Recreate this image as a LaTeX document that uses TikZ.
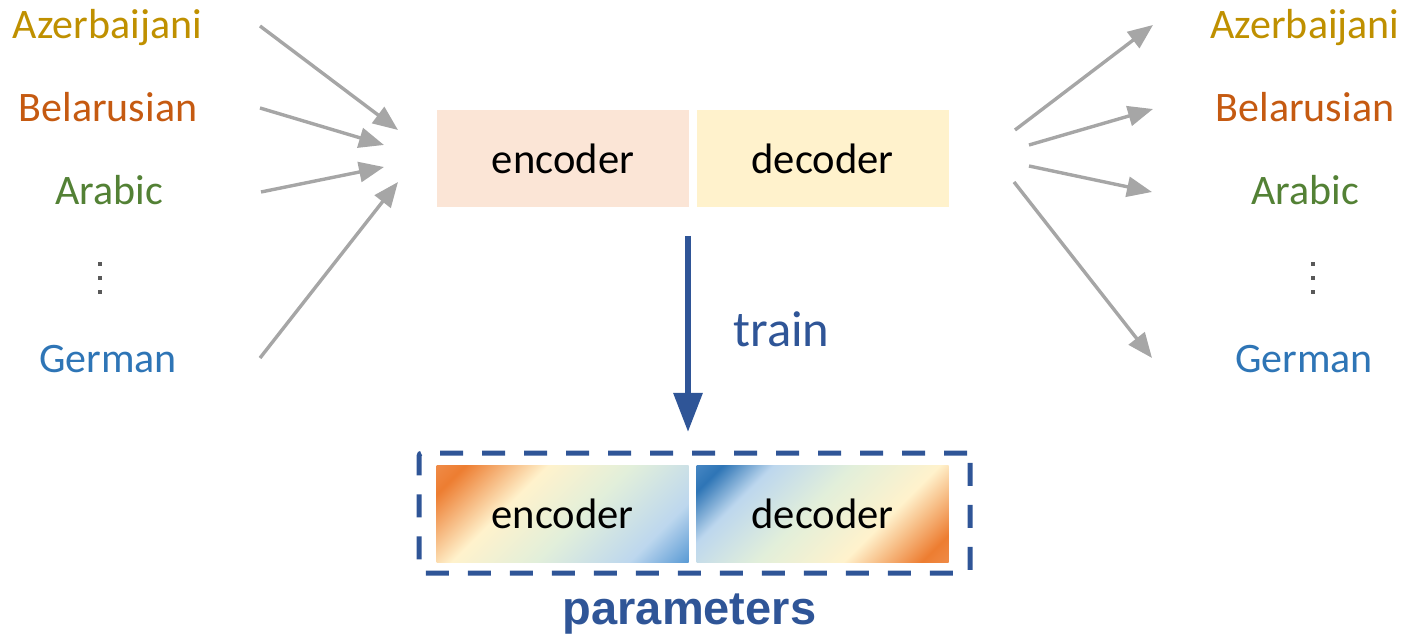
\documentclass[tikz,border=0pt]{standalone}
\usepackage{fontspec}
\setmainfont{Carlito}
\newfontfamily\paramfont{Liberation Sans}
\usetikzlibrary{arrows.meta}

% palette
\definecolor{azcol}{HTML}{BF9000}
\definecolor{becol}{HTML}{C55A11}
\definecolor{arcol}{HTML}{538135}
\definecolor{decol}{HTML}{2E75B6}
\definecolor{arrowgray}{HTML}{A6A6A6}
\definecolor{navy}{HTML}{2F5597}
\definecolor{dotgray}{HTML}{595959}
\definecolor{encfill}{HTML}{FBE5D6}
\definecolor{decfill}{HTML}{FFF2CC}
% gradient stops
\definecolor{gOrangeLt}{HTML}{EF8A46}
\definecolor{gOrange}{HTML}{ED7D31}
\definecolor{gCream}{HTML}{FFF2CC}
\definecolor{gGreen}{HTML}{E2EFDA}
\definecolor{gBlueLt}{HTML}{BDD7EE}
\definecolor{gBlue}{HTML}{5B9BD5}
\definecolor{gBlueDk}{HTML}{2E75B6}
\definecolor{gBlueDkLt}{HTML}{4585C2}

% diagonal gradients (the box spans 29.43bp..70.57bp of the shading)
\pgfdeclarehorizontalshading{encshade}{100bp}{%
  color(0bp)=(gOrangeLt); color(29.43bp)=(gOrangeLt);
  color(32.8bp)=(gOrange); color(42.6bp)=(gCream);
  color(52.5bp)=(gGreen); color(63.6bp)=(gBlueLt);
  color(70.57bp)=(gBlue); color(100bp)=(gBlue)}
\pgfdeclarehorizontalshading{decshade}{100bp}{%
  color(0bp)=(gBlueDkLt); color(29.43bp)=(gBlueDkLt);
  color(32.5bp)=(gBlueDk); color(38.5bp)=(gBlueLt);
  color(48bp)=(gGreen); color(58.2bp)=(gCream);
  color(67.5bp)=(gOrange); color(70.57bp)=(gOrangeLt);
  color(100bp)=(gOrangeLt)}

\begin{document}
\begin{tikzpicture}[x=0.5pt,y=-0.5pt,
  lang/.style={inner sep=0pt, anchor=base, font=\fontsize{21}{25}\selectfont},
  feed/.style={draw=arrowgray, line width=1.7pt,
    -{Triangle[length=12.5pt,width=10pt]}},
  blockbox/.style={minimum width=126pt, minimum height=48.5pt, inner sep=0pt,
    font=\fontsize{21.3}{25}\selectfont},
  gradbox/.style={blockbox, path picture={
    \shade[shading=#1, shading angle=-45]
      ([shift={(-150,-150)}]path picture bounding box.center) rectangle
      ([shift={(150,150)}]path picture bounding box.center);}},
  dotsq/.style={fill=dotgray, inner sep=0pt, minimum size=2.3pt},
  parambox/.style={draw=navy, line width=2.5pt, dash pattern=on 11.5pt off 9.5pt,
    rounded corners=1.5pt, minimum width=275.5pt, minimum height=60pt}
]
\useasboundingbox (0,0) rectangle (1404,636);

% source languages
\node[lang, text=azcol] (lAz) at (107.5,39) {Azerbaijani};
\node[lang, text=becol] (lBe) at (108,122) {Belarusian};
\node[lang, text=arcol] (lAr) at (109,205) {Arabic};
\node[lang, text=decol] (lDe) at (108,372) {German};
\node[dotsq] (ld1) at (100,264) {};
\node[dotsq] (ld2) at (100,278) {};
\node[dotsq] (ld3) at (100,292) {};

% target languages
\node[lang, text=azcol] (rAz) at (1305,39) {Azerbaijani};
\node[lang, text=becol] (rBe) at (1305,122) {Belarusian};
\node[lang, text=arcol] (rAr) at (1305,205) {Arabic};
\node[lang, text=decol] (rDe) at (1304,372) {German};
\node[dotsq] (rd1) at (1313,264) {};
\node[dotsq] (rd2) at (1313,278) {};
\node[dotsq] (rd3) at (1313,292) {};

% model
\node[blockbox, fill=encfill] (enc) at (563,159) {encoder};
\node[blockbox, fill=decfill] (dec) at (822.5,159) {decoder};

% incoming arrows
\coordinate (inAzS) at (260,26);  \coordinate (inAzT) at (398,130);
\coordinate (inBeS) at (260,108); \coordinate (inBeT) at (384,145);
\coordinate (inArS) at (261,192); \coordinate (inArT) at (384,167);
\coordinate (inDeS) at (260,358); \coordinate (inDeT) at (398,182);
\draw[feed] (inAzS) -- (inAzT);
\draw[feed] (inBeS) -- (inBeT);
\draw[feed] (inArS) -- (inArT);
\draw[feed] (inDeS) -- (inDeT);

% outgoing arrows
\coordinate (outAzS) at (1015,130); \coordinate (outAzT) at (1153,25);
\coordinate (outBeS) at (1029,145); \coordinate (outBeT) at (1153,109);
\coordinate (outArS) at (1029,166); \coordinate (outArT) at (1152,192);
\coordinate (outDeS) at (1014,182); \coordinate (outDeT) at (1152,358);
\draw[feed] (outAzS) -- (outAzT);
\draw[feed] (outBeS) -- (outBeT);
\draw[feed] (outArS) -- (outArT);
\draw[feed] (outDeS) -- (outDeT);

% training step
\coordinate (trainS) at (688,236);
\coordinate (trainT) at (688,432);
\draw[navy, line width=3pt, -{Triangle[length=19.5pt,width=14pt]}] (trainS) -- (trainT);
\node[inner sep=0pt, anchor=base, text=navy, font=\fontsize{25.3}{30}\selectfont]
  (train) at (781.5,347) {train};

% learned parameters
\node[parambox] (params) at (694.5,513) {};
\node[gradbox=encshade] (penc) at (562.5,513.5) {encoder};
\node[gradbox=decshade] (pdec) at (822.5,513.5) {decoder};
\node[inner sep=0pt, anchor=base, text=navy,
  font=\paramfont\bfseries\fontsize{23.5}{28}\selectfont] (plabel) at (689.5,624) {parameters};
\end{tikzpicture}
\end{document}
